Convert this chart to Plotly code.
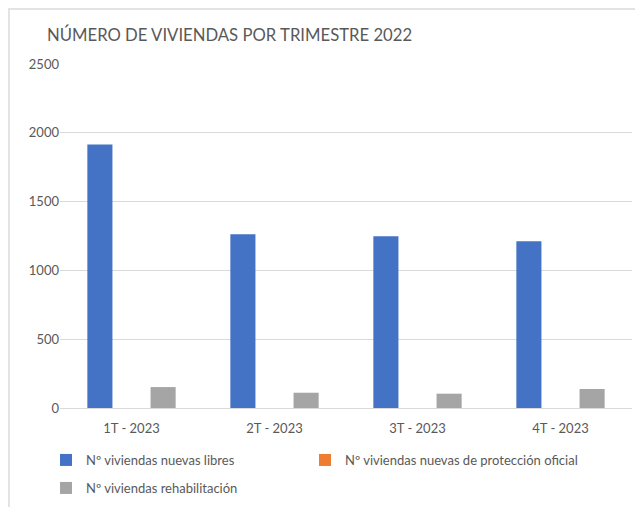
import plotly.graph_objects as go

categories = ["1T - 2023", "2T - 2023", "3T - 2023", "4T - 2023"]
libres = [1915, 1263, 1248, 1212]
proteccion = [0, 0, 0, 0]
rehabilitacion = [152, 111, 104, 138]
y_ticks = [0, 500, 1000, 1500, 2000, 2500]

FONT = "Lato"
GREY_TXT = "#595959"

# The page body adds an 8px offset; work in page pixels and convert.
O = 8
W, H = 643 - O, 507 - O
L, R, T, B = 60 - O, 11, 64 - O, 99
pw, ph = W - L - R, H - T - B

def px(xa):
    return (xa - O - L) / pw

def py(ya):
    return (H - B - (ya - O)) / ph

fig = go.Figure()
fig.add_trace(go.Bar(name="Nº viviendas nuevas libres", x=categories, y=libres,
                     marker=dict(color="#4472C4", line=dict(width=0)), legend="legend"))
fig.add_trace(go.Bar(name="Nº viviendas nuevas de protección oficial", x=categories, y=proteccion,
                     marker=dict(color="#ED7D31", line=dict(width=0)), legend="legend2"))
fig.add_trace(go.Bar(name="Nº viviendas rehabilitación", x=categories, y=rehabilitacion,
                     marker=dict(color="#A5A5A5", line=dict(width=0)), legend="legend3"))

leg_common = dict(orientation="h", xanchor="left", yanchor="middle", visible=True,
                  font=dict(family=FONT, size=13, color=GREY_TXT), bgcolor="rgba(0,0,0,0)")

fig.update_layout(
    width=W, height=H,
    showlegend=True,
    margin=dict(l=L, r=R, t=T, b=B, autoexpand=False),
    paper_bgcolor="white", plot_bgcolor="white",
    barmode="group", bargap=0.337, bargroupgap=0.206,
    font=dict(family=FONT, size=12, color=GREY_TXT),
    title=dict(text="NÚMERO DE VIVIENDAS POR TRIMESTRE 2022", x=(47 - O) / W, xanchor="left",
               y=1 - (35 - O) / H, yanchor="middle", font=dict(family=FONT, size=16.7, color=GREY_TXT)),
    xaxis=dict(showgrid=False, showline=True, linecolor="#D9D9D9", linewidth=1,
               ticks="", ticklabelstandoff=8, tickfont=dict(size=13, color=GREY_TXT)),
    yaxis=dict(range=[0, 2500], tickvals=y_ticks, showgrid=True, gridcolor="#D9D9D9",
               gridwidth=1, zeroline=False, showline=False, ticks="", ticklen=0,
               tickfont=dict(size=13, color=GREY_TXT)),
    legend=dict(x=px(46), y=py(460), **leg_common),
    legend2=dict(x=px(305), y=py(460), **leg_common),
    legend3=dict(x=px(46), y=py(488), **leg_common),
    shapes=[
        dict(type="line", xref="paper", yref="paper", x0=px(O + 1), x1=px(O + 1), y0=py(O + 1), y1=py(520),
             line=dict(color="#E3E3E3", width=2)),
        dict(type="line", xref="paper", yref="paper", x0=px(O), x1=px(660), y0=py(O + 1), y1=py(O + 1),
             line=dict(color="#E3E3E3", width=2)),
    ],
)

fig.write_html("out.html")
